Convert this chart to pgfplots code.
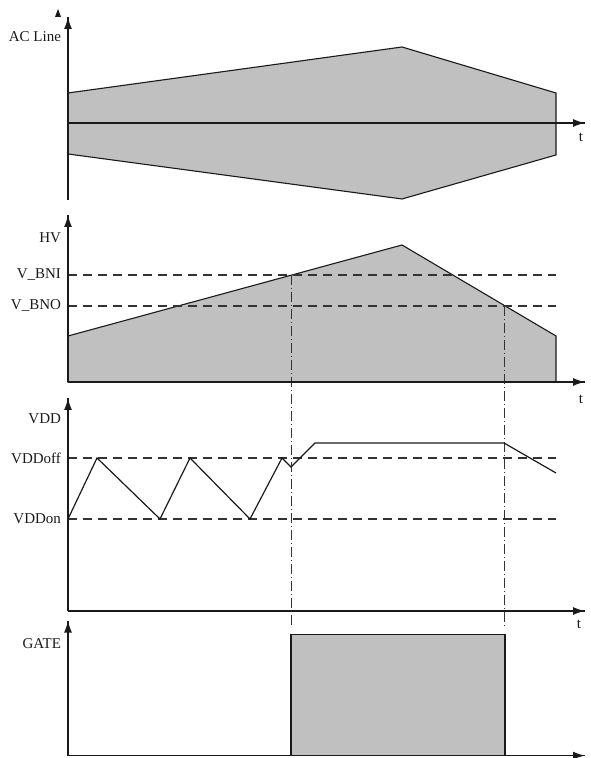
\documentclass[border=0pt]{standalone}
\usepackage{fontspec}
\setmainfont{Liberation Serif}
\usepackage{pgfplots}
\pgfplotsset{compat=1.18}
\usetikzlibrary{arrows.meta}

\definecolor{shade}{HTML}{C0C0C0}
\definecolor{ink}{HTML}{1A1A1A}
\definecolor{guide}{HTML}{333333}

\tikzset{
  tlabel/.style={font=\fontsize{7.5}{9}\selectfont, text=ink},
  tip/.style={-{Latex[length=6pt,width=4pt]}, line width=0.7pt, ink},
}

% 1 px of the reference = 0.5pt; x runs from the y axis (px 68) to the arrow tip (px 585)
\pgfplotsset{
  panel/.style={
    scale only axis, width=258.5pt, anchor=south west,
    xmin=0, xmax=517, enlargelimits=false, clip=false, axis on top,
    axis lines*=left,
    axis line style={line width=0.7pt, ink},
    xtick=\empty, major tick length=0pt,
    tick label style={font=\fontsize{7.5}{9}\selectfont, text=ink},
  },
  level/.style={guide, line width=0.55pt, dash pattern=on 4.5pt off 3pt},
  marker line/.style={guide, line width=0.5pt, dash pattern=on 5pt off 1.5pt on 0.5pt off 1.5pt},
  shape/.style={ink, line width=0.55pt, fill=shade},
  wave/.style={ink, line width=0.6pt},
}

\begin{document}
\begin{tikzpicture}
\path[use as bounding box] (0,0) rectangle (295pt,379pt);

% AC line
\begin{axis}[panel, at={(34pt,279pt)}, axis lines*=middle,
    ymin=-77, ymax=106, height=91.5pt,
    ytick={86}, yticklabels={AC Line}]
  \addplot[shape] coordinates {(0,30) (334,76) (488,30) (488,-32) (334,-76) (0,-31)} -- cycle;
  \draw[tip] (axis cs:490,0) -- (axis cs:517,0);
  \draw[tip] (axis cs:0,80) -- (axis cs:0,106);
  \node[tlabel] at (axis cs:513,-14) {t};
  \fill[ink] (axis cs:-13,106) -- (axis cs:-7,106) -- (axis cs:-10,114) -- cycle;
\end{axis}

% HV
\begin{axis}[panel, at={(34pt,188pt)},
    ymin=0, ymax=167, height=83.5pt,
    ytick={76,107,144}, yticklabels={V\_BNO, V\_BNI, HV}]
  \addplot[shape] coordinates {(0,0) (0,46) (334,137) (488,46) (488,0)} -- cycle;
  \addplot[level] coordinates {(0,107) (488,107)};
  \addplot[level] coordinates {(0,76) (488,76)};
  \addplot[marker line] coordinates {(223,107) (223,-244)};
  \addplot[marker line] coordinates {(436,76) (436,-244)};
  \draw[tip] (rel axis cs:0.95,0) -- (rel axis cs:1,0);
  \draw[tip] (rel axis cs:0,0.85) -- (rel axis cs:0,1);
  \node[tlabel] at (axis cs:513,-17) {t};
\end{axis}

% VDD
\begin{axis}[panel, at={(34pt,73.5pt)},
    ymin=0, ymax=213, height=106.5pt,
    ytick={92,153,192}, yticklabels={VDDon, VDDoff, VDD}]
  \addplot[level] coordinates {(0,153) (488,153)};
  \addplot[level] coordinates {(0,92) (488,92)};
  \addplot[wave] coordinates {
    (0,92) (29,153) (92,92) (122,153) (182,92) (214,153)
    (223,144) (247,168) (436,168) (488,138)};
  \draw[tip] (rel axis cs:0.95,0) -- (rel axis cs:1,0);
  \draw[tip] (rel axis cs:0,0.88) -- (rel axis cs:0,1);
  \node[tlabel] at (axis cs:511,-13) {t};
\end{axis}

% GATE
\begin{axis}[panel, at={(34pt,1.2pt)},
    ymin=0, ymax=135, height=67.5pt,
    ytick={112}, yticklabels={GATE}]
  \addplot[shape] coordinates {(223,0) (223,121) (437,121) (437,0)} -- cycle;
  \draw[tip] (rel axis cs:0.95,0) -- (rel axis cs:1,0);
  \draw[tip] (rel axis cs:0,0.8) -- (rel axis cs:0,1);
\end{axis}
\end{tikzpicture}
\end{document}
